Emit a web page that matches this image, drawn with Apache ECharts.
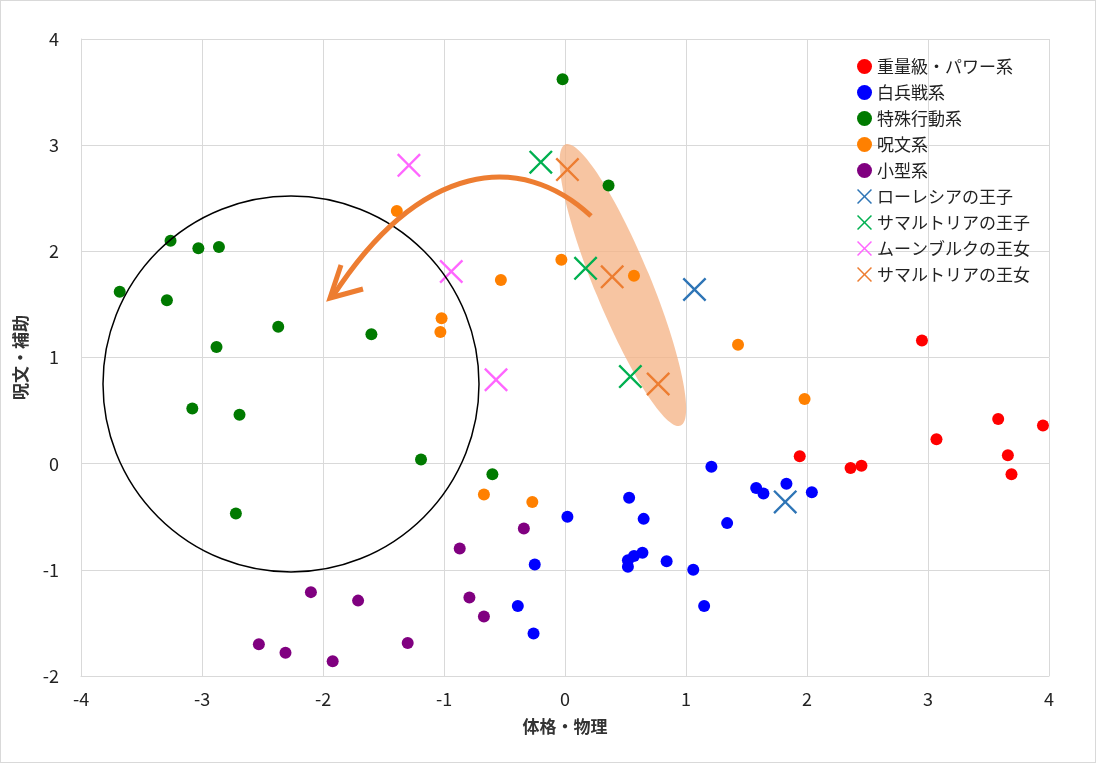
<!DOCTYPE html>
<html>
<head>
<meta charset="utf-8">
<script src="https://cdn.jsdelivr.net/npm/echarts@6/dist/echarts.min.js"></script>
<style>
html,body{margin:0;padding:0;background:#fff;}
#main{width:1094px;height:761px;border:1px solid #d9d9d9;}
</style>
</head>
<body>
<div id="main"></div>
<script>
// data: [体格・物理, 呪文・補助]
var heavy = [[1.94,0.07],[2.36,-0.04],[2.45,-0.02],[2.95,1.16],[3.07,0.23],[3.58,0.42],[3.66,0.08],[3.69,-0.10],[3.95,0.36]];
var melee = [[1.21,-0.03],[0.02,-0.50],[0.53,-0.32],[0.65,-0.52],[1.58,-0.23],[1.64,-0.28],[1.83,-0.19],[2.04,-0.27],[1.34,-0.56],
  [-0.25,-0.95],[-0.39,-1.34],[-0.26,-1.60],[0.52,-0.91],[0.57,-0.87],[0.64,-0.84],[0.52,-0.97],[0.84,-0.92],[1.06,-1.00],[1.15,-1.34]];
var special = [[-0.02,3.62],[0.36,2.62],[-3.26,2.10],[-3.03,2.03],[-2.86,2.04],[-3.68,1.62],[-3.29,1.54],[-2.37,1.29],[-1.60,1.22],
  [-2.88,1.10],[-3.08,0.52],[-2.69,0.46],[-1.19,0.04],[-0.60,-0.10],[-2.72,-0.47]];
var spell = [[-1.39,2.38],[-0.53,1.73],[-0.03,1.92],[0.57,1.77],[-1.02,1.37],[-1.03,1.24],[1.43,1.12],[1.98,0.61],[-0.67,-0.29],[-0.27,-0.36]];
var small = [[-0.34,-0.61],[-0.87,-0.80],[-0.79,-1.26],[-0.67,-1.44],[-2.10,-1.21],[-1.71,-1.29],[-1.30,-1.69],[-2.53,-1.70],[-2.31,-1.78],[-1.92,-1.86]];
var lorasia = [[1.07,1.64],[1.82,-0.36]];
var samaltriaPrince = [[-0.20,2.84],[0.17,1.84],[0.54,0.82]];
var moonbrooke = [[-1.29,2.81],[-0.94,1.81],[-0.57,0.79]];
var samaltriaPrincess = [[0.02,2.77],[0.39,1.76],[0.77,0.75]];

var cross = 'path://M0,7L7,0L50,43L93,0L100,7L57,50L100,93L93,100L50,57L7,100L0,93L43,50Z';

function dots(name, data, color) {
  return {name: name, type: 'scatter', data: data, symbol: 'circle', symbolSize: 12,
    itemStyle: {color: color, opacity: 1}, z: 3};
}
function crosses(name, data, color) {
  return {name: name, type: 'scatter', data: data, symbol: cross, symbolSize: 24,
    itemStyle: {color: color, opacity: 1}, z: 4};
}

var chart = echarts.init(document.getElementById('main'));
chart.setOption({
  animation: false,
  textStyle: {fontFamily: '"Noto Sans CJK JP", sans-serif'},
  grid: {left: 80, right: 46, top: 38, bottom: 86},
  legend: {
    orient: 'vertical', right: 60, top: 52, itemGap: 9, itemWidth: 15, itemHeight: 15,
    textStyle: {fontSize: 17, color: '#222'},
    data: [
      {name: '重量級・パワー系', icon: 'circle'}, {name: '白兵戦系', icon: 'circle'},
      {name: '特殊行動系', icon: 'circle'}, {name: '呪文系', icon: 'circle'},
      {name: '小型系', icon: 'circle'}, {name: 'ローレシアの王子', icon: cross},
      {name: 'サマルトリアの王子', icon: cross}, {name: 'ムーンブルクの王女', icon: cross},
      {name: 'サマルトリアの王女', icon: cross}
    ]
  },
  xAxis: {
    type: 'value', min: -4, max: 4, interval: 1,
    name: '体格・物理', nameLocation: 'middle', nameGap: 42,
    nameTextStyle: {fontSize: 17, fontWeight: 'bold', color: '#333'},
    axisLine: {onZero: false, lineStyle: {color: '#d9d9d9'}},
    axisTick: {show: false},
    axisLabel: {fontSize: 18, color: '#222', margin: 14},
    splitLine: {lineStyle: {color: '#d9d9d9'}}
  },
  yAxis: {
    type: 'value', min: -2, max: 4, interval: 1,
    name: '呪文・補助', nameLocation: 'middle', nameGap: 52,
    nameTextStyle: {fontSize: 17, fontWeight: 'bold', color: '#333'},
    axisLine: {show: true, onZero: false, lineStyle: {color: '#d9d9d9'}},
    axisTick: {show: false},
    axisLabel: {fontSize: 18, color: '#222', margin: 22},
    splitLine: {lineStyle: {color: '#d9d9d9'}}
  },
  graphic: [
    {type: 'ellipse', shape: {cx: 0, cy: 0, rx: 28, ry: 152}, x: 622, y: 284, rotation: 0.39,
      style: {fill: 'rgba(244,177,131,0.75)'}, z: 1},
    {type: 'circle', shape: {cx: 290, cy: 383, r: 188}, style: {fill: 'none', stroke: '#000', lineWidth: 1.5}, z: 5},
    {type: 'bezierCurve', shape: {x1: 590, y1: 215, cpx1: 520, cpy1: 150, cpx2: 420, cpy2: 160, x2: 332, y2: 295},
      style: {fill: 'none', stroke: '#ed7d31', lineWidth: 5}, z: 6},
    {type: 'polyline', shape: {points: [[340, 264], [329, 297], [362, 288]]},
      style: {fill: 'none', stroke: '#ed7d31', lineWidth: 5, lineJoin: 'miter'}, z: 6}
  ],
  series: [
    dots('重量級・パワー系', heavy, '#ff0000'),
    dots('白兵戦系', melee, '#0000ff'),
    dots('特殊行動系', special, '#007a00'),
    dots('呪文系', spell, '#ff8000'),
    dots('小型系', small, '#800080'),
    crosses('ローレシアの王子', lorasia, '#2e75b6'),
    crosses('サマルトリアの王子', samaltriaPrince, '#00b050'),
    crosses('ムーンブルクの王女', moonbrooke, '#ff66ff'),
    crosses('サマルトリアの王女', samaltriaPrincess, '#ed7d31')
  ]
});
</script>
</body>
</html>
